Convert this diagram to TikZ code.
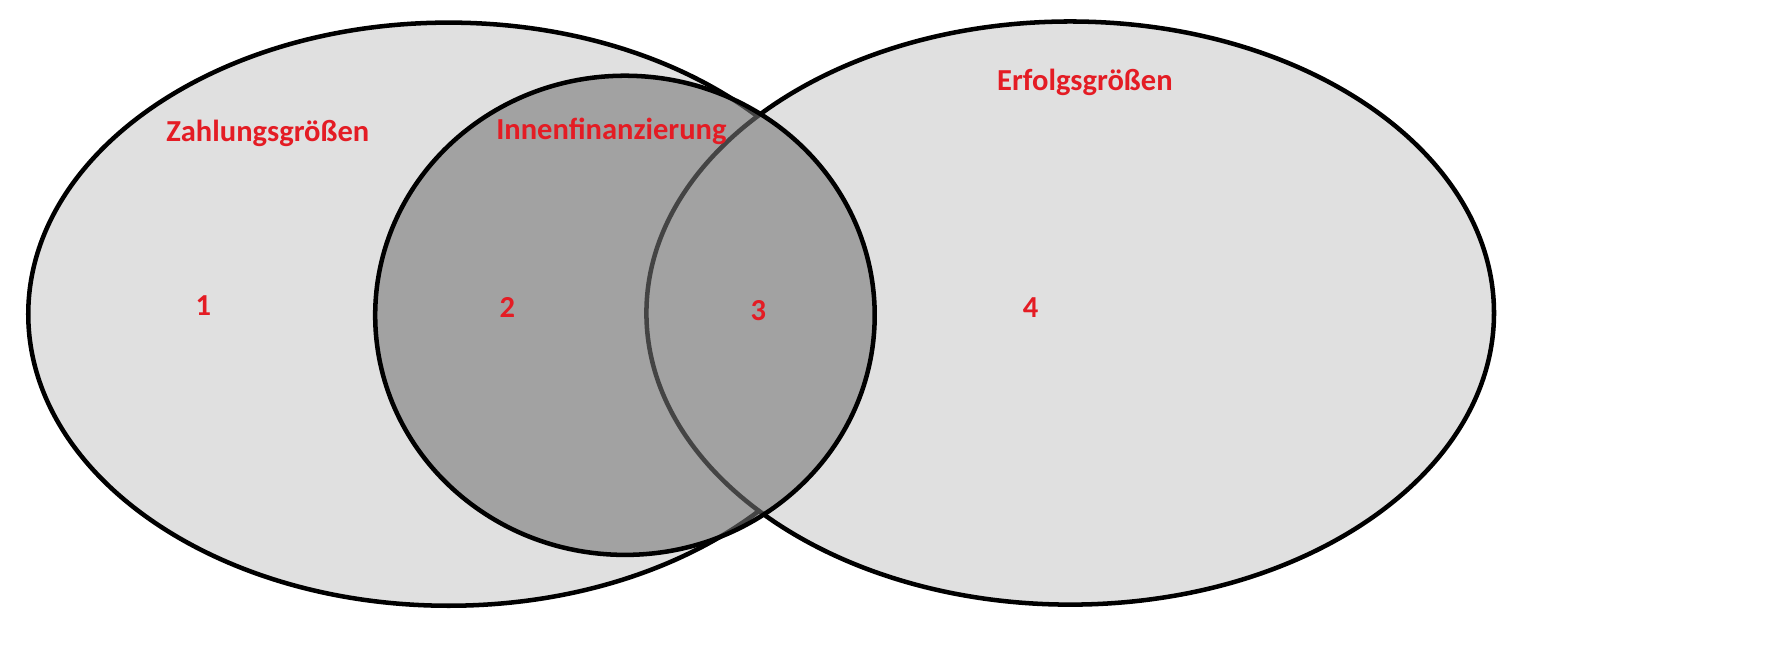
\documentclass[tikz,border=0pt]{standalone}
\usepackage{fontspec}
\setmainfont{Carlito}
\definecolor{lbl}{RGB}{228,28,36}
\definecolor{lightfill}{RGB}{224,224,224}
\definecolor{darkfill}{RGB}{118,118,118}
\tikzset{
  setshape/.style={draw=black, line width=2pt},
  lbltext/.style={text=lbl, font=\fontsize{13.5}{16}\selectfont\bfseries, inner sep=0pt, anchor=center}
}
\begin{document}
\begin{tikzpicture}[x=0.5pt,y=-0.5pt]
\useasboundingbox[fill=white] (0,0) rectangle (1568,574);
% left ellipse (Zahlungsgroessen)
\path[setshape, fill=lightfill] (397,278) ellipse [x radius=372, y radius=258];
% right ellipse (Erfolgsgroessen)
\path[setshape, fill=lightfill] (947,277) ellipse [x radius=375, y radius=258];
% middle circle (Innenfinanzierung), translucent fill over the lines below
\path[fill=darkfill, fill opacity=0.58] (553,279) ellipse [x radius=221, y radius=212];
\path[setshape] (553,279) ellipse [x radius=221, y radius=212];
% labels
\node[lbltext] (zahl) at (237,118) {Zahlungsgrößen};
\node[lbltext] (innen) at (541,116) {Innenfinanzierung};
\node[lbltext] (erfolg) at (960,73) {Erfolgsgrößen};
\node[lbltext] (n1) at (180,270) {1};
\node[lbltext] (n2) at (449,272) {2};
\node[lbltext] (n3) at (671,275) {3};
\node[lbltext] (n4) at (912,272) {4};
\end{tikzpicture}
\end{document}
